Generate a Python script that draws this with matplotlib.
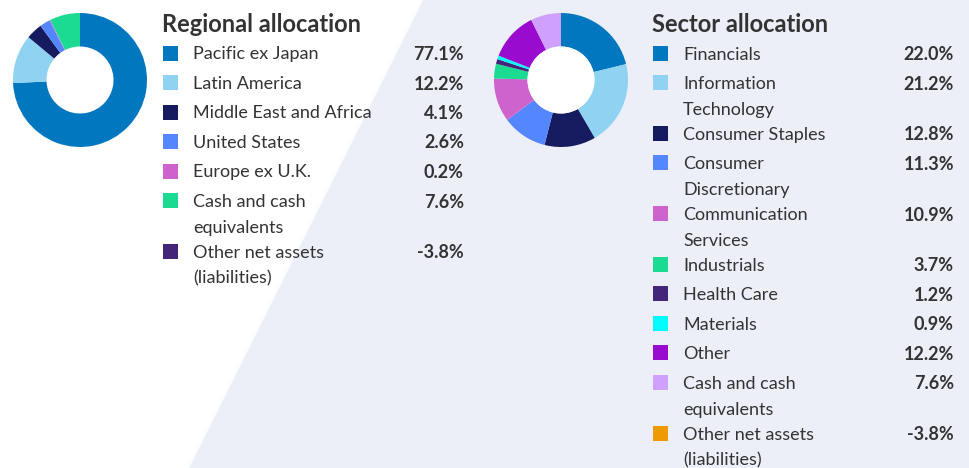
import matplotlib.pyplot as plt
from matplotlib.patches import Polygon, Rectangle, Circle

plt.rcParams['font.family'] = ['Lato', 'DejaVu Sans']

# Regional allocation
region_labels = ["Pacific ex Japan", "Latin America", "Middle East and Africa",
                 "United States", "Europe ex U.K.", "Cash and cash\nequivalents",
                 "Other net assets\n(liabilities)"]
region_values = [77.1, 12.2, 4.1, 2.6, 0.2, 7.6, -3.8]
region_colors = ["#0077be", "#8fd2f2", "#161a5e", "#5486ff", "#cf63cd",
                 "#1bdb93", "#43267a"]

# Sector allocation
sector_labels = ["Financials", "Information\nTechnology", "Consumer Staples",
                 "Consumer\nDiscretionary", "Communication\nServices", "Industrials",
                 "Health Care", "Materials", "Other", "Cash and cash\nequivalents",
                 "Other net assets\n(liabilities)"]
sector_values = [22.0, 21.2, 12.8, 11.3, 10.9, 3.7, 1.2, 0.9, 12.2, 7.6, -3.8]
sector_colors = ["#0077be", "#8fd2f2", "#161a5e", "#5486ff", "#cf63cd", "#1bdb93",
                 "#43267a", "#00fcff", "#9a0bd0", "#d0a0ff", "#ef9b00"]

W, H = 969, 468
BG = "#eceef8"
TXT = "#333333"

fig = plt.figure(figsize=(W / 100, H / 100), dpi=100)
base = fig.add_axes([0, 0, 1, 1])
base.set_xlim(0, W)
base.set_ylim(H, 0)
base.axis("off")

# lavender panel behind the sector block
base.add_patch(Polygon([(423, 0), (W, 0), (W, H), (189, H)], closed=True,
                       facecolor=BG, edgecolor="none"))


def donut(cx, cy, r, values, colors, hole_white):
    vals = [v for v in values if v > 0]
    cols = [c for v, c in zip(values, colors) if v > 0]
    ax = fig.add_axes([(cx - r) / W, 1 - (cy + r) / H, 2 * r / W, 2 * r / H])
    ax.pie(vals, colors=cols, startangle=90, counterclock=False,
           wedgeprops=dict(width=0.5, linewidth=0))
    if hole_white:
        ax.add_patch(Circle((0, 0), 0.5, facecolor="white", edgecolor="none"))
    ax.set_xlim(-1, 1)
    ax.set_ylim(-1, 1)
    ax.set_aspect("equal")
    ax.axis("off")


def legend(x0, title, labels, values, colors):
    base.text(x0, 22, title, fontsize=17, fontweight="bold", color=TXT,
              va="center_baseline", ha="left")
    y = 53
    for lab, val, col in zip(labels, values, colors):
        base.add_patch(Rectangle((x0 + 1, y - 7.5), 15, 15, facecolor=col,
                                 edgecolor="none"))
        lines = lab.split("\n")
        for i, line in enumerate(lines):
            base.text(x0 + 31, y + i * 25.7, line, fontsize=13, color=TXT,
                      va="center_baseline", ha="left")
        base.text(x0 + 302, y, f"{val:.1f}%", fontsize=13, fontweight="bold",
                  color=TXT, va="center_baseline", ha="right")
        y += 29.5 + (len(lines) - 1) * 21.3


donut(80, 80, 67, region_values, region_colors, hole_white=False)
donut(561, 80, 67, sector_values, sector_colors, hole_white=True)

legend(162, "Regional allocation", region_labels, region_values, region_colors)
legend(652, "Sector allocation", sector_labels, sector_values, sector_colors)

fig.savefig("out.png", dpi=100)
